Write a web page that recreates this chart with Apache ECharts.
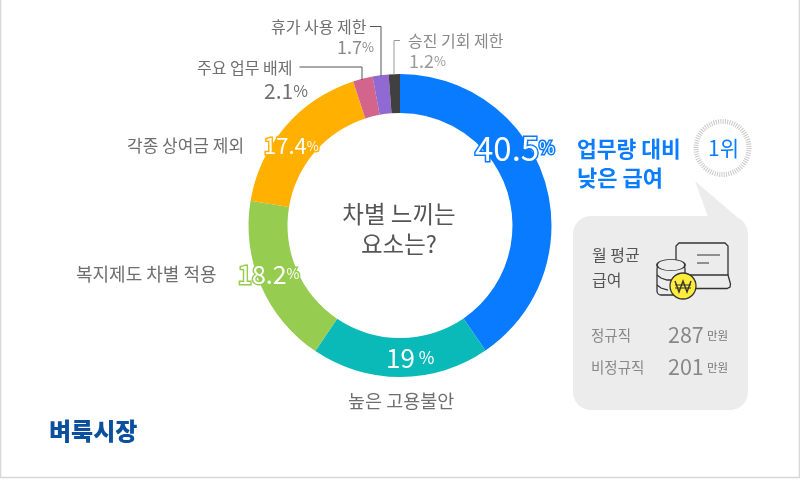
<!DOCTYPE html>
<html><head><meta charset="utf-8">
<style>html,body{margin:0;padding:0;background:#fff}#c{width:800px;height:480px}</style>
<script src="https://cdn.jsdelivr.net/npm/echarts@6/dist/echarts.min.js"></script>
</head><body><div id="c"></div>
<script>
const categories=['업무량 대비 낮은 급여','높은 고용불안','복지제도 차별 적용','각종 상여금 제외','주요 업무 배제','휴가 사용 제한','승진 기회 제한'];
const values=[40.5,19,18.2,17.4,2.1,1.7,1.2];
const colors=['#087bff','#0abab8','#96cc50','#ffb000','#d3648c','#9069d2','#404040'];
const salaryLabels=['정규직','비정규직'];
const salaryValues=[287,201];
const F='"Noto Sans CJK KR","Noto Sans",sans-serif';
const gray='#6f6f6f';
function t(x,y,text,size,fill,extra){return {type:'text',x,y,z:10,style:Object.assign({text,fill,fontFamily:F,fontSize:size,align:'left',verticalAlign:'middle'},extra||{})};}
function pct(x,y,v,stroke,size,pSize,gap){
  const s=stroke?{stroke,lineWidth:3}:{};
  return {type:'text',x,y,z:10,style:{text:`{a|${v}}{b|${gap}%}`,align:'left',verticalAlign:'middle',rich:{
    a:Object.assign({fontFamily:F,fontSize:size,fill:'#fff'},s),
    b:Object.assign({fontFamily:F,fontSize:pSize,fill:'#fff'},s)}}};
}
function pctGray(x,y,v,size,fill){
  return {type:'text',x,y,z:10,style:{text:`{a|${v}}{b|%}`,align:'left',verticalAlign:'middle',rich:{
    a:{fontFamily:F,fontSize:size,fill},b:{fontFamily:F,fontSize:size-5,fill}}}};
}
function ln(points,color,z){return {type:'polyline',z:z||9,shape:{points},style:{stroke:color,lineWidth:1,fill:'none'}};}
const iconStroke='#333';
const iw=1.3;
function icon(points,z,fill){return {type:'polyline',z,shape:{points},style:{fill:fill||'none',stroke:iconStroke,lineWidth:iw}};}
function coinTop(cx,cy,z){return {type:'circle',z,x:cx,y:cy,scaleY:0.4,shape:{cx:0,cy:0,r:14},style:{fill:'#ececec',stroke:iconStroke,lineWidth:iw/0.7}};}
const graphic=[
  {type:'rect',z:0,shape:{x:0.5,y:-2,width:799,height:479.5},style:{fill:'none',stroke:'#d8d8d8',lineWidth:1.5}},
  {type:'rect',z:1,shape:{x:573,y:216,width:175,height:194,r:18},style:{fill:'#ececec'}},
  {type:'polygon',z:1,shape:{points:[[695,181],[708,217],[737,217]]},style:{fill:'#ececec'}},
  {type:'circle',z:2,shape:{cx:722.5,cy:148,r:26.5},style:{fill:'none',stroke:'#c9c9c9',lineWidth:5,lineDash:[1,1.3]}},
  t(708,148,'1위',21,'#0a7cff'),
  t(577,149,'업무량 대비',21.5,'#0a7cff',{fontWeight:'bold'}),
  t(577,178,'낮은 급여',22,'#0a7cff',{fontWeight:'bold'}),
  t(399,214,'차별 느끼는',23.5,'#555',{align:'center'}),
  t(399,244,'요소는?',23.5,'#555',{align:'center'}),
  t(271,27,'휴가 사용 제한',16,gray),
  pctGray(337,47,'1.7',18,'#8a8a8a'),
  t(408,41,'승진 기회 제한',16,'#8a8a8a'),
  pctGray(409,61,'1.2',18,'#9a9a9a'),
  t(197,68,'주요 업무 배제',16,gray),
  pctGray(264,91,'2.1',21,gray),
  t(127,146,'각종 상여금 제외',17,gray),
  t(76,274,'복지제도 차별 적용',18,gray),
  t(348,401,'높은 고용불안',18.5,gray),
  ln([[299.5,67],[362,67],[362,80]],'#555'),
  ln([[370,26.5],[381,26.5],[381,76]],'#555'),
  ln([[400,40.5],[394,40.5],[394,75]],'#999'),
  pct(475,148,'40.5','#087bff',33,17,''),
  pct(264,146,'17.4','#ffb000',22,13,''),
  pct(238,274,'18.2','#96cc50',25,14,''),
  pct(386,358,'19',null,26,17,' '),
  t(49,431,'벼룩시장',24,'#0b4f9e',{fontWeight:'900'}),
  t(592,255,'월 평균',16,'#555'),
  t(592,280,'급여',16,'#555'),
  t(591,335,salaryLabels[0],14.5,'#888'),
  t(591,367,salaryLabels[1],14.5,'#888'),
  t(668,335,String(salaryValues[0]),21.5,'#888'),
  t(668,367,String(salaryValues[1]),21.5,'#888'),
  t(707,336,'만원',11.5,'#777'),
  t(707,368,'만원',11.5,'#777'),
  // laptop
  icon([[676,275],[676,246],[679,243],[725,243],[728,246],[728,275]],3),
  icon([[690,275],[728,275],[730.5,284],[730,287],[727,288.5],[690,288.5]],3),
  ln([[697,255],[720,255]],iconStroke,3),
  ln([[697,263],[709,263]],iconStroke,3),
  // coins
  {type:'rect',z:4,shape:{x:657,y:265,width:28,height:30,r:4},style:{fill:'#ececec',stroke:iconStroke,lineWidth:iw}},
  coinTop(671,265,5),
  icon([[657,275],[661,278],[667,280],[674,280]],5),
  icon([[657,285],[661,288],[668,290]],5),
  {type:'circle',z:11,shape:{cx:683,cy:286,r:13},style:{fill:'#ffec3d',stroke:iconStroke,lineWidth:iw}},
  {type:'polyline',z:12,shape:{points:[[675,281],[679,292],[683,281],[687,292],[691,281]]},style:{fill:'none',stroke:'#333',lineWidth:1.4}},
  ln([[675,285],[691,285]],'#333',12),
  ln([[675,288],[691,288]],'#333',12)
];
const chart=echarts.init(document.getElementById('c'),null,{renderer:'canvas'});
chart.setOption({
  animation:false,
  backgroundColor:'#fff',
  graphic:{elements:graphic},
  series:[{
    type:'pie',
    center:[400,225.5],
    radius:[112.5,151.5],
    startAngle:90,
    clockwise:true,
    silent:true,
    z:2,
    label:{show:false},labelLine:{show:false},
    itemStyle:{borderWidth:0},
    data:categories.map((name,i)=>({name,value:values[i],itemStyle:{color:colors[i]}}))
  }]
});
</script></body></html>
